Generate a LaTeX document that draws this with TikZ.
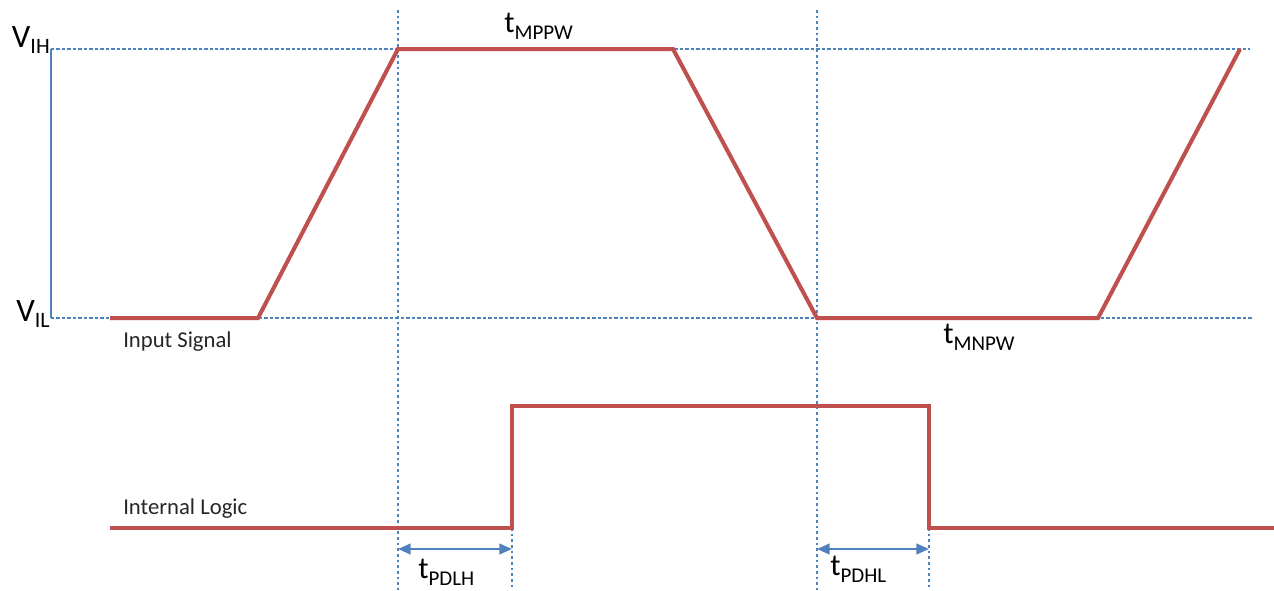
\documentclass[tikz,border=0pt]{standalone}
\usepackage{fontspec}
\setmainfont{Carlito}
\usetikzlibrary{arrows.meta}
\definecolor{sigred}{HTML}{C0504D}
\definecolor{refblue}{HTML}{4F81BD}
\definecolor{txtgray}{HTML}{262626}
\newcommand{\tsub}[2]{{\fontsize{23}{27}\selectfont #1}\raisebox{-5.25pt}{\fontsize{15.75}{18}\selectfont #2}}
\newcommand{\vsub}[2]{{\fontsize{24.5}{28}\selectfont #1}\raisebox{-4.5pt}{\fontsize{16.5}{19}\selectfont #2}}
\tikzset{
  wave/.style={draw=sigred, line width=3pt, line join=miter},
  waveshadow/.style={draw=black!35, line width=3pt, opacity=0.35, line join=miter},
  axisline/.style={draw=refblue, line width=1.6pt},
  levelline/.style={draw=refblue, line width=0.8pt, dash pattern=on 2.6pt off 1.5pt},
  timeline/.style={draw=refblue, line width=2pt, dash pattern=on 2pt off 2.25pt},
  spanarrow/.style={draw=refblue, line width=1.6pt, {Triangle[length=9.5pt,width=8pt]}-{Triangle[length=9.5pt,width=8pt]}},
  biglabel/.style={inner sep=0pt, text=black},
  smalllabel/.style={inner sep=0pt, text=txtgray, font=\fontsize{17}{20}\selectfont}
}
\begin{document}
\begin{tikzpicture}[x=0.75pt, y=-0.75pt]
\useasboundingbox (0,0) rectangle (1274,590);
% key coordinates
\coordinate (ih0) at (51,49);
\coordinate (il0) at (51,318);
\coordinate (ih1) at (1250,49);
\coordinate (il1) at (1252,318);
% input signal vertices
\coordinate (a0) at (110,318);
\coordinate (a1) at (258,318);
\coordinate (a2) at (398,49);
\coordinate (a3) at (673,49);
\coordinate (a4) at (817,318);
\coordinate (a5) at (1098,318);
\coordinate (a6) at (1240,49);
% internal logic vertices
\coordinate (b0) at (110,528);
\coordinate (b1) at (512,528);
\coordinate (b2) at (512,406);
\coordinate (b3) at (929,406);
\coordinate (b4) at (929,528);
\coordinate (b5) at (1274,528);
% timing guide ends
\coordinate (g1t) at (398,10);
\coordinate (g1b) at (398,590);
\coordinate (g2t) at (817,10);
\coordinate (g2b) at (817,590);
\coordinate (g3b) at (512,590);
\coordinate (g4b) at (929,590);
\coordinate (p1l) at (398,549);
\coordinate (p1r) at (512,549);
\coordinate (p2l) at (817,549);
\coordinate (p2r) at (929,549);

% level lines and axis
\draw[levelline] (ih0) -- (ih1);
\draw[levelline] (il0) -- (il1);
\draw[axisline] (ih0) -- (il0);

% timing guides
\draw[timeline] (g1t) -- (g1b);
\draw[timeline] (g2t) -- (g2b);
\draw[timeline] (b1) -- (g3b);
\draw[timeline] (b4) -- (g4b);

% shadows
\begin{scope}[shift={(1.5,2.5)}]
\draw[waveshadow] (a0) -- (a1) -- (a2) -- (a3) -- (a4) -- (a5) -- (a6);
\draw[waveshadow] (b0) -- (b1) -- (b2) -- (b3) -- (b4) -- (b5);
\end{scope}
% waveforms
\draw[wave] (a0) -- (a1) -- (a2) -- (a3) -- (a4) -- (a5) -- (a6);
\draw[wave] (b0) -- (b1) -- (b2) -- (b3) -- (b4) -- (b5);

% propagation delay arrows
\draw[spanarrow] (p1l) -- (p1r);
\draw[spanarrow] (p2l) -- (p2r);

% labels
\node[biglabel, anchor=base east] (vih) at (50,47) {\vsub{V}{IH}};
\node[biglabel, anchor=base east] (vil) at (50,321) {\vsub{V}{IL}};
\node[biglabel, anchor=base west] (tmppw) at (504,32) {\tsub{t}{MPPW}};
\node[biglabel, anchor=base west] (tmnpw) at (943,343) {\tsub{t}{MNPW}};
\node[biglabel, anchor=base west] (tpdlh) at (418,578) {\tsub{t}{PDLH}};
\node[biglabel, anchor=base west] (tpdhl) at (830,575) {\tsub{t}{PDHL}};
\node[smalllabel, anchor=base west] (insig) at (123,347) {Input Signal};
\node[smalllabel, anchor=base west] (intlog) at (123,514) {Internal Logic};
\end{tikzpicture}
\end{document}
